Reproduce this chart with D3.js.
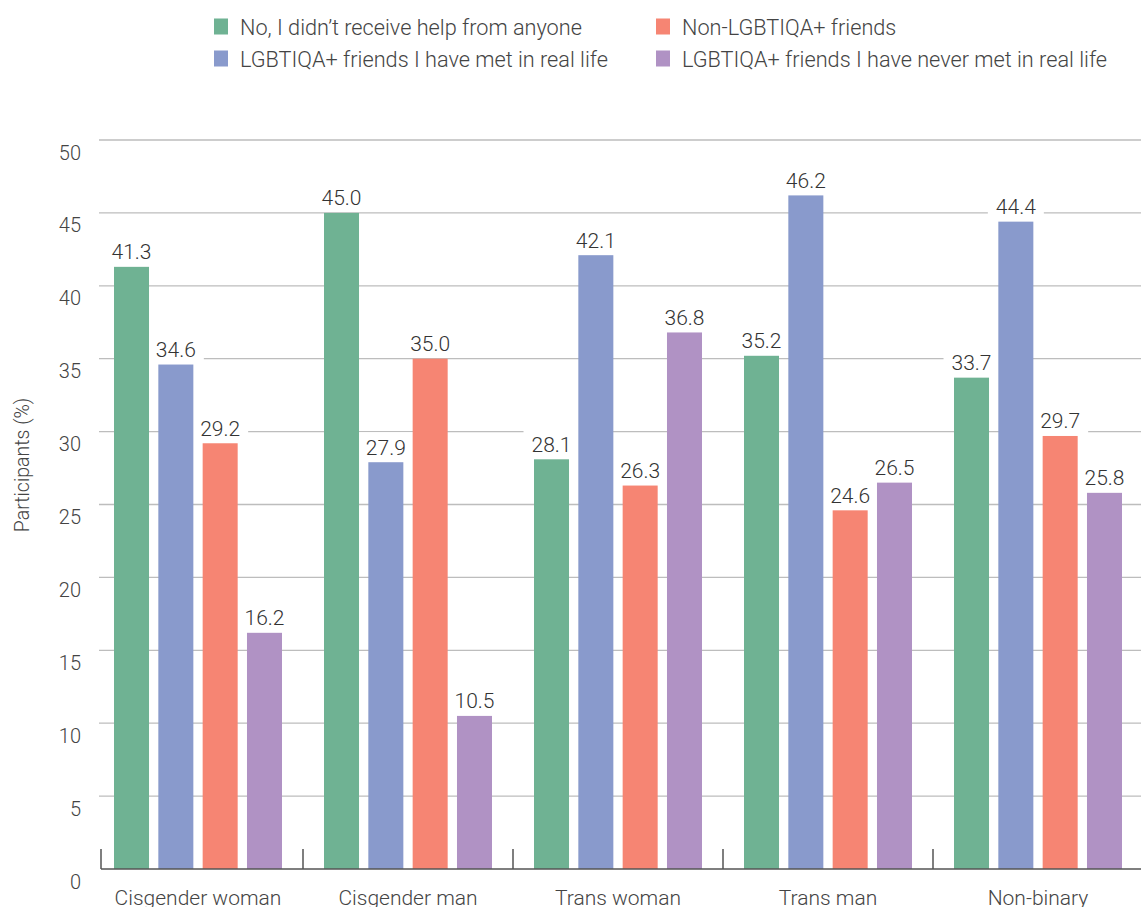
<!DOCTYPE html>
<html><head><meta charset="utf-8">
<script src="https://cdn.jsdelivr.net/npm/d3@7"></script>
<style>
body{margin:0;background:#fff;}
svg{display:block;font-family:Roboto,"Noto Sans",sans-serif;font-weight:300;}
</style></head>
<body><svg id="c" width="1141" height="907"></svg>
<script>
const categories = ["Cisgender woman","Cisgender man","Trans woman","Trans man","Non-binary"];
const seriesNames = ["No, I didn\u2019t receive help from anyone","LGBTIQA+ friends I have met in real life","Non-LGBTIQA+ friends","LGBTIQA+ friends I have never met in real life"];
const noHelp      = [41.3, 45.0, 28.1, 35.2, 33.7];
const metFriends  = [34.6, 27.9, 42.1, 46.2, 44.4];
const nonLgbt     = [29.2, 35.0, 26.3, 24.6, 29.7];
const neverMet    = [16.2, 10.5, 36.8, 26.5, 25.8];
const yTicks = [0,5,10,15,20,25,30,35,40,45,50];
const colors = ["#6FB293","#899ACC","#F68573","#B092C4"];

const seriesValues = [noHelp, metFriends, nonLgbt, neverMet];
const svg = d3.select("#c");

const y = d3.scaleLinear().domain([0,50]).range([869,140]);
const x0 = d3.scaleBand().domain(categories).range([93,1143]).padding(0);
const x1 = d3.scaleBand().domain(d3.range(4)).range([-84,84]).paddingInner(0.21);

// gridlines
svg.append("g").selectAll("line").data(yTicks.filter(d=>d>0)).join("line")
  .attr("x1",99).attr("x2",1141).attr("y1",d=>y(d)).attr("y2",d=>y(d))
  .attr("stroke","#bdbdbd").attr("stroke-width",1.3);

// y labels
svg.append("g").selectAll("text").data(yTicks).join("text")
  .attr("x",81).attr("y",d=>y(d)+19.5).attr("text-anchor","end")
  .attr("font-size",20).attr("fill","#444").text(d=>d);

// y title
svg.append("text").attr("transform","translate(29,465) rotate(-90)")
  .attr("text-anchor","middle")
  .attr("font-size",19.5).attr("fill","#444").text("Participants (%)");

const flat = [];
categories.forEach((c,ci)=>seriesValues.forEach((s,si)=>flat.push({c, si, v:s[ci]})));
const cx = d => x0(d.c)+x0.bandwidth()/2 + x1(d.si) + x1.bandwidth()/2;

// label backgrounds (hide gridlines)
const bgLayer = svg.append("g");
const barLayer = svg.append("g");
const txtLayer = svg.append("g");

barLayer.selectAll("rect").data(flat).join("rect")
  .attr("x",d=>x0(d.c)+x0.bandwidth()/2 + x1(d.si)).attr("width",x1.bandwidth())
  .attr("y",d=>y(d.v)).attr("height",d=>y(0)-y(d.v))
  .attr("fill",d=>colors[d.si]);

const texts = txtLayer.selectAll("text").data(flat).join("text")
  .attr("x",cx).attr("y",d=>y(d.v)-7.5)
  .attr("text-anchor","middle").attr("font-size",21).attr("fill","#333")
  .text(d=>d.v.toFixed(1));
texts.each(function(d){
  const w = this.getComputedTextLength();
  bgLayer.append("rect").attr("x",cx(d)-w/2-8).attr("width",w+16)
    .attr("y",y(d.v)-30).attr("height",28).attr("fill","#fff");
});

// x axis baseline and ticks
svg.append("line").attr("x1",101).attr("x2",1141).attr("y1",869).attr("y2",869)
  .attr("stroke","#555").attr("stroke-width",1.5);
const tickXs = [101].concat(categories.slice(1).map(c=>x0(c)));
svg.append("g").selectAll("line").data(tickXs).join("line")
  .attr("x1",d=>d).attr("x2",d=>d).attr("y1",849).attr("y2",869)
  .attr("stroke","#555").attr("stroke-width",1.5);
svg.append("g").selectAll("text").data(categories).join("text")
  .attr("x",c=>x0(c)+x0.bandwidth()/2).attr("y",905)
  .attr("text-anchor","middle").attr("font-size",21).attr("fill","#444").text(c=>c);

// legend
const legPos = [[214,34.5],[214,66.5],[656,34.5],[656,66.5]];
const leg = svg.append("g").selectAll("g").data(seriesNames).join("g")
  .attr("transform",(d,i)=>`translate(${legPos[i][0]},${legPos[i][1]})`);
leg.append("rect").attr("x",0).attr("y",-16).attr("width",14).attr("height",16).attr("fill",(d,i)=>colors[i]);
leg.append("text").attr("x",26).attr("y",0)
  .attr("font-size",21.7).attr("fill","#444").text(d=>d);
</script></body></html>
